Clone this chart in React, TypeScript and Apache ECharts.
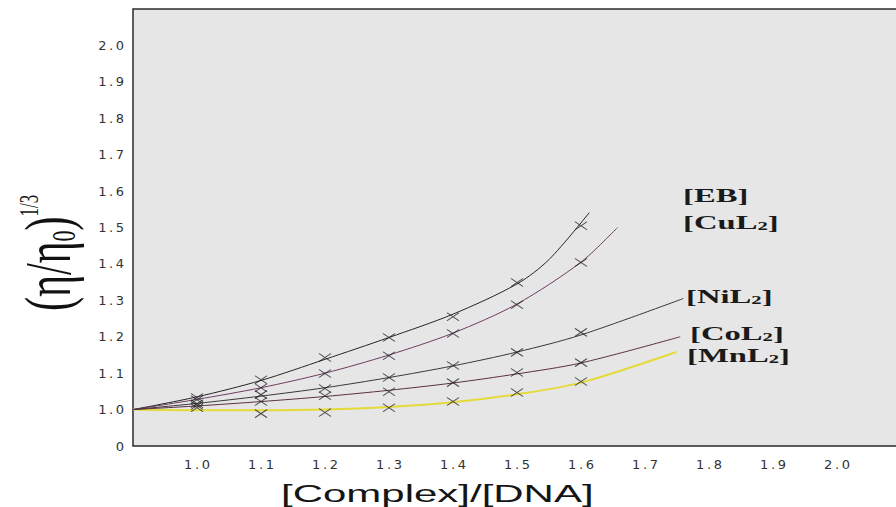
import React, { useEffect, useRef } from "react";
import * as echarts from "echarts";

// Measured points (× markers)
const markerX = [1.0, 1.1, 1.2, 1.3, 1.4, 1.5, 1.6];
const ebMarks = [1.033, 1.082, 1.143, 1.198, 1.255, 1.349, 1.505];
const cuMarks = [1.027, 1.06, 1.099, 1.148, 1.209, 1.288, 1.404];
const niMarks = [1.016, 1.041, 1.058, 1.088, 1.121, 1.157, 1.212];
const coMarks = [1.011, 1.022, 1.038, 1.049, 1.074, 1.102, 1.129];
const mnMarks = [1.005, 0.989, 0.992, 1.005, 1.022, 1.047, 1.077];

// Fitted curves
const ebCurveX = [0.9, 1.0, 1.1, 1.2, 1.3, 1.4, 1.5, 1.55, 1.613];
const ebCurveY = [1.0, 1.035, 1.08, 1.138, 1.198, 1.262, 1.345, 1.412, 1.541];
const cuCurveX = [0.9, 1.0, 1.1, 1.2, 1.3, 1.4, 1.5, 1.6, 1.657];
const cuCurveY = [1.0, 1.028, 1.06, 1.1, 1.15, 1.21, 1.29, 1.405, 1.5];
const niCurveX = [0.9, 1.0, 1.1, 1.2, 1.3, 1.4, 1.5, 1.6, 1.76];
const niCurveY = [1.0, 1.017, 1.037, 1.06, 1.088, 1.12, 1.158, 1.205, 1.305];
const coCurveX = [0.9, 1.0, 1.1, 1.2, 1.3, 1.4, 1.5, 1.6, 1.755];
const coCurveY = [1.0, 1.01, 1.022, 1.036, 1.053, 1.073, 1.098, 1.128, 1.2];
const mnCurveX = [0.9, 1.0, 1.1, 1.2, 1.3, 1.4, 1.5, 1.6, 1.749];
const mnCurveY = [1.0, 0.998, 0.998, 1.0, 1.007, 1.02, 1.042, 1.074, 1.158];

const seriesNames = ["[EB]", "[CuL2]", "[NiL2]", "[CoL2]", "[MnL2]"];
const seriesColors = ["#262626", "#6e3d62", "#383838", "#5a2e45", "#e4da3a"];
const yBreakLabel = "0";
const xAxisTitle = "[Complex]/[DNA]";

const pairs = (xs: number[], ys: number[]) => xs.map((x, i) => [x, ys[i]]);

const spaced = (s: string) => s.split("").join("\u2009");

export default function App() {
  const ref = useRef<HTMLDivElement>(null);

  useEffect(() => {
    if (!ref.current) return;
    const chart = echarts.init(ref.current, undefined, { renderer: "svg" });

    const curves = [
      pairs(ebCurveX, ebCurveY),
      pairs(cuCurveX, cuCurveY),
      pairs(niCurveX, niCurveY),
      pairs(coCurveX, coCurveY),
      pairs(mnCurveX, mnCurveY),
    ];
    const marks = [ebMarks, cuMarks, niMarks, coMarks, mnMarks].map((m) =>
      pairs(markerX, m)
    );

    const lineSeries = curves.map((d, i) => ({
      name: seriesNames[i],
      type: "line",
      data: d,
      smooth: 0.3,
      symbol: "none",
      lineStyle: { color: seriesColors[i], width: i === 4 ? 2 : 1 },
      z: i === 4 ? 2 : 3,
    }));
    const markSeries = marks.map((d, i) => ({
      name: seriesNames[i] + " data",
      type: "scatter",
      data: d,
      symbol: "path://M0,0L10,10M10,0L0,10",
      symbolSize: [12, 8],
      itemStyle: { color: "transparent", borderColor: "#1e1e1e", borderWidth: 1 },
      z: 4,
    }));

    const labelStyle = {
      fontFamily: "Liberation Serif",
      fontWeight: "bold",
      fontSize: 19,
      fill: "#1a1a1a",
      verticalAlign: "middle",
      rich: {
        s: {
          fontFamily: "Liberation Serif",
          fontWeight: "bold",
          fontSize: 12,
          fill: "#1a1a1a",
          verticalAlign: "bottom",
        },
      },
    };
    const seriesLabel = (text: string, x: number, y: number) => ({
      type: "text",
      x,
      y,
      scaleX: 1.72,
      style: { ...labelStyle, text },
    });

    chart.setOption({
      animation: false,
      backgroundColor: "#ffffff",
      grid: {
        left: 133,
        top: 9,
        width: 768,
        bottom: 61,
        outerBoundsMode: "none",
        show: true,
        backgroundColor: "#e6e6e6",
        borderColor: "#2a2a2a",
        borderWidth: 1.5,
      },
      xAxis: {
        type: "value",
        min: 0.9,
        max: 2.1,
        interval: 0.1,
        axisLine: { show: false },
        axisTick: { show: false },
        splitLine: { show: false },
        axisLabel: {
          margin: 12,
          color: "#333",
          fontFamily: "DejaVu Sans",
          fontSize: 13,
          formatter: (v: number) =>
            v < 0.95 || v > 2.05 ? "" : spaced(v.toFixed(1)),
        },
      },
      yAxis: {
        type: "value",
        min: 0.9,
        max: 2.1,
        interval: 0.1,
        axisLine: { show: false },
        axisTick: { show: false },
        splitLine: { show: false },
        axisLabel: {
          margin: 9,
          color: "#333",
          fontFamily: "DejaVu Sans",
          fontSize: 13,
          formatter: (v: number) =>
            v < 0.95 ? yBreakLabel : v > 2.05 ? "" : spaced(v.toFixed(1)),
        },
      },
      series: [...lineSeries, ...markSeries],
      graphic: [
        {
          type: "text",
          x: 48,
          y: 311,
          rotation: Math.PI / 2,
          scaleY: 1.55,
          style: {
            text: "{p|(η/η}{sub|0}{p|)}{sup|1/3}",
            align: "left",
            verticalAlign: "middle",
            fill: "#111",
            rich: {
              p: { fontFamily: "Liberation Serif", fontSize: 42, fill: "#111" },
              sub: {
                fontFamily: "Liberation Serif",
                fontSize: 22,
                fill: "#111",
                verticalAlign: "bottom",
              },
              sup: {
                fontFamily: "Liberation Serif",
                fontSize: 17,
                fill: "#111",
                verticalAlign: "top",
              },
            },
          },
        },
        {
          type: "text",
          x: 281,
          y: 494,
          scaleX: 1.75,
          style: {
            text: xAxisTitle,
            fontFamily: "Liberation Sans",
            fontSize: 24,
            fill: "#151515",
            verticalAlign: "middle",
          },
        },
        seriesLabel("[EB]", 683, 196),
        seriesLabel("[CuL{s|2}]", 683, 223),
        seriesLabel("[NiL{s|2}]", 686, 297),
        seriesLabel("[CoL{s|2}]", 690, 334),
        seriesLabel("[MnL{s|2}]", 687, 356),
      ],
    });

    return () => chart.dispose();
  }, []);

  return (
    <div
      ref={ref}
      style={{ position: "fixed", left: 0, top: 0, width: 896, height: 507 }}
    />
  );
}
